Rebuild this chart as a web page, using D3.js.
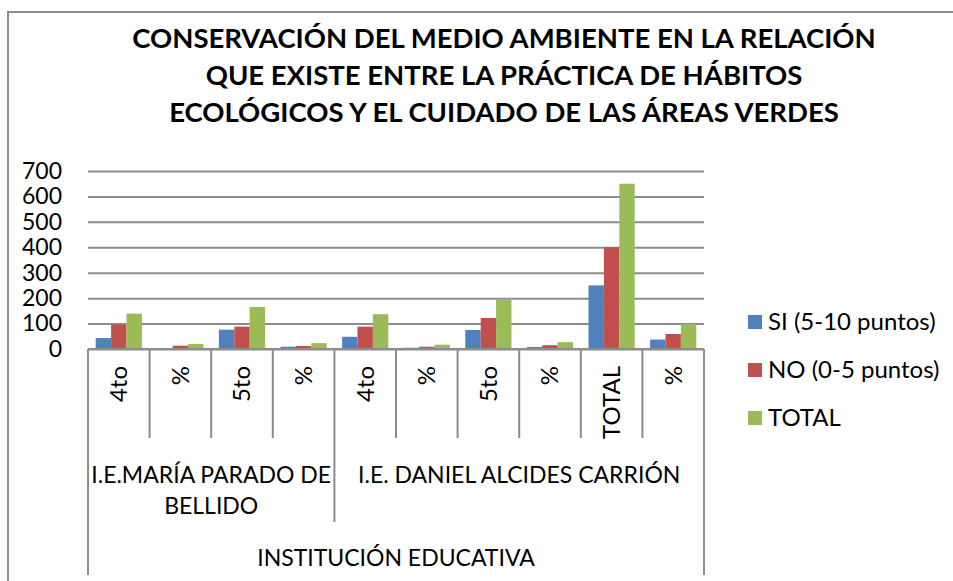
<!DOCTYPE html>
<html>
<head>
<meta charset="utf-8">
<script src="https://cdn.jsdelivr.net/npm/d3@7"></script>
<style>
  body { margin: 0; background: #fff; }
  text { font-family: Lato, "Open Sans", sans-serif; fill: #000; }
</style>
</head>
<body>
<svg id="chart" width="953" height="581"></svg>
<script>
// data
var categories = ["4to", "%", "5to", "%", "4to", "%", "5to", "%", "TOTAL", "%"];
var groupNames = [["I.E.MARÍA PARADO DE", "BELLIDO"], ["I.E. DANIEL ALCIDES CARRIÓN"]];
var groupSpans = [4, 6];
var axisTitle = "INSTITUCIÓN EDUCATIVA";
var seriesNames = ["SI (5-10 puntos)", "NO (0-5 puntos)", "TOTAL"];
var siValues = [43, 4, 76, 9, 48, 5, 75, 8, 250, 37];
var noValues = [96, 13, 88, 12, 88, 9, 122, 15, 400, 59];
var totalValues = [139, 20, 165, 23, 137, 17, 197, 27, 650, 98];
var yTicks = [0, 100, 200, 300, 400, 500, 600, 700];
var titleLines = [
    "CONSERVACIÓN DEL MEDIO AMBIENTE EN LA RELACIÓN",
    "QUE EXISTE ENTRE LA PRÁCTICA DE HÁBITOS",
    "ECOLÓGICOS Y EL CUIDADO DE LAS ÁREAS VERDES"
];

var colors = ["#4F81BD", "#C0504D", "#9BBB59"];
var lineColor = "#8c8c8c";

var svg = d3.select("#chart");

// outer frame
svg.append("rect")
    .attr("x", 8).attr("y", 12)
    .attr("width", 1000).attr("height", 600)
    .attr("fill", "none")
    .attr("stroke", lineColor)
    .attr("stroke-width", 2);

// title
svg.append("g").selectAll("text")
    .data(titleLines)
    .enter().append("text")
    .attr("x", 504)
    .attr("y", function(d, i) { return 48 + i * 37; })
    .attr("text-anchor", "middle")
    .attr("font-weight", "bold")
    .attr("font-size", 27.5)
    .text(function(d) { return d; });

var plotLeft = 88, plotRight = 704, plotTop = 171, plotBottom = 349;

var x = d3.scaleBand()
    .domain(d3.range(categories.length))
    .range([plotLeft, plotRight]);

var xInner = d3.scaleBand()
    .domain(d3.range(seriesNames.length))
    .range([0, x.bandwidth()])
    .paddingOuter(0.5)
    .paddingInner(0);

var y = d3.scaleLinear()
    .domain([0, 700])
    .range([plotBottom, plotTop]);

// gridlines + y labels
var yAxis = svg.append("g")
    .attr("transform", "translate(" + plotLeft + ",0)")
    .call(d3.axisLeft(y).tickValues(yTicks).tickSize(-(plotRight - plotLeft)).tickPadding(26));
yAxis.select(".domain").remove();
yAxis.selectAll(".tick line")
    .attr("stroke", lineColor)
    .attr("stroke-width", 2);
yAxis.selectAll(".tick text")
    .attr("font-size", 23)
    .attr("font-family", "Lato, sans-serif")
    .attr("fill", "#000");

// bars
var series = [siValues, noValues, totalValues];
series.forEach(function(vals, s) {
    svg.append("g").selectAll("rect")
        .data(vals)
        .enter().append("rect")
        .attr("x", function(d, i) { return x(i) + xInner(s); })
        .attr("y", function(d) { return y(d); })
        .attr("width", xInner.bandwidth())
        .attr("height", function(d) { return y(0) - y(d); })
        .attr("fill", colors[s]);
});

// category axis lines
var axisG = svg.append("g");
axisG.append("line")
    .attr("x1", plotLeft).attr("x2", plotRight)
    .attr("y1", plotBottom).attr("y2", plotBottom)
    .attr("stroke", lineColor).attr("stroke-width", 2);

var groupEdges = [0];
groupSpans.forEach(function(n) { groupEdges.push(groupEdges[groupEdges.length - 1] + n); });

d3.range(categories.length + 1).forEach(function(i) {
    var xp = i < categories.length ? x(i) : plotRight;
    var y2 = 438;
    if (i === 0 || i === categories.length) y2 = 575;
    else if (groupEdges.indexOf(i) >= 0) y2 = 522;
    axisG.append("line")
        .attr("x1", xp).attr("x2", xp)
        .attr("y1", plotBottom).attr("y2", y2)
        .attr("stroke", lineColor).attr("stroke-width", 2);
});

// rotated category labels
axisG.selectAll("text.cat")
    .data(categories)
    .enter().append("text")
    .attr("class", "cat")
    .attr("transform", function(d, i) {
        return "translate(" + (x(i) + x.bandwidth() / 2) + ",366) rotate(-90)";
    })
    .attr("text-anchor", "end")
    .attr("dy", "0.35em")
    .attr("font-size", 24)
    .text(function(d) { return d; });

// group labels
groupNames.forEach(function(lines, g) {
    var x0 = x(groupEdges[g]);
    var x1 = groupEdges[g + 1] < categories.length ? x(groupEdges[g + 1]) : plotRight;
    lines.forEach(function(line, k) {
        axisG.append("text")
            .attr("x", (x0 + x1) / 2)
            .attr("y", 483 + k * 31)
            .attr("text-anchor", "middle")
            .attr("font-size", 23)
            .text(line);
    });
});

axisG.append("text")
    .attr("x", (plotLeft + plotRight) / 2)
    .attr("y", 566)
    .attr("text-anchor", "middle")
    .attr("font-size", 23)
    .text(axisTitle);

// legend
var legend = svg.append("g").attr("transform", "translate(748,0)");
seriesNames.forEach(function(name, s) {
    var cy = 322 + s * 48;
    legend.append("rect")
        .attr("x", 0).attr("y", cy - 7)
        .attr("width", 14).attr("height", 14)
        .attr("fill", colors[s]);
    legend.append("text")
        .attr("x", 20).attr("y", cy)
        .attr("dy", "0.35em")
        .attr("font-size", 24)
        .text(name);
});
</script>
</body>
</html>
